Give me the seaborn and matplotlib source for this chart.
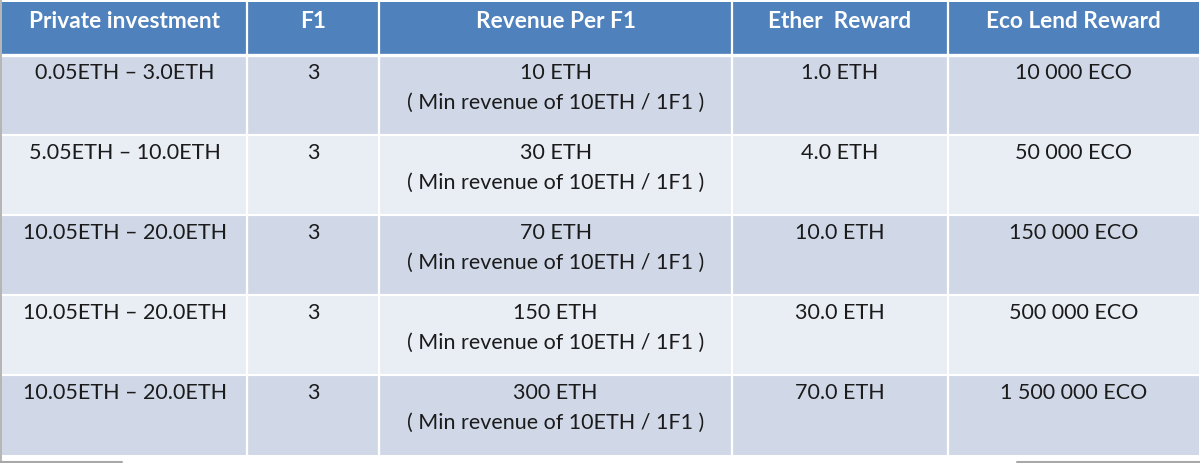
import numpy as np
import seaborn as sns
import matplotlib.pyplot as plt
from matplotlib.colors import ListedColormap
from matplotlib.lines import Line2D

# table content
headers = ["Private investment", "F1", "Revenue Per F1", "Ether  Reward", "Eco Lend Reward"]
investment = ["0.05ETH \u2013 3.0ETH", "5.05ETH \u2013 10.0ETH", "10.05ETH \u2013 20.0ETH",
              "10.05ETH \u2013 20.0ETH", "10.05ETH \u2013 20.0ETH"]
f1 = [3, 3, 3, 3, 3]
revenue_eth = [10, 30, 70, 150, 300]
revenue_note = "( Min revenue of 10ETH / 1F1 )"
ether_reward = [1.0, 4.0, 10.0, 30.0, 70.0]
eco_reward = ["10 000 ECO", "50 000 ECO", "150 000 ECO", "500 000 ECO", "1 500 000 ECO"]

# layout weights (relative cell sizes)
col_weights = [41, 22, 59, 36, 42]
header_h, row_h = 2, 3

header_color = "#4F81BD"
odd_color = "#D0D8E8"
even_color = "#E9EDF4"
text_color = "#1b1b1b"

sns.set_theme(style="white")
plt.rcParams['font.family'] = ['Lato', 'DejaVu Sans']

n_rows = len(investment)
band_codes = [0] + [1 if i % 2 == 0 else 2 for i in range(n_rows)]
band_heights = [header_h] + [row_h] * n_rows
shade = np.repeat(band_codes, band_heights)[:, None] * np.ones((1, sum(col_weights)))

fig = plt.figure(figsize=(12, 4.63), dpi=100)
ax = fig.add_axes([2 / 1200, 8 / 463, 1197 / 1200, 453 / 463])
sns.heatmap(shade, cmap=ListedColormap([header_color, odd_color, even_color]),
            vmin=-0.5, vmax=2.5, cbar=False, xticklabels=False, yticklabels=False, ax=ax)

x_edges = np.concatenate([[0], np.cumsum(col_weights)])
y_edges = np.concatenate([[0], np.cumsum(band_heights)])
x_mid = (x_edges[:-1] + x_edges[1:]) / 2

for x in x_edges[1:-1]:
    ax.axvline(x, color="white", lw=1.6)
for i, y in enumerate(y_edges[1:-1]):
    ax.axhline(y, color="white", lw=2.4 if i == 0 else 1.5)

# header
for xm, h in zip(x_mid, headers):
    ax.text(xm, 0.72, h, ha="center", va="center", color="white",
            fontsize=16.3, fontweight="bold")

# body
fs = 15.5
for r in range(n_rows):
    top = header_h + r * row_h
    y1, y2 = top + 0.68, top + 1.8
    ax.text(x_mid[0], y1, investment[r], ha="center", va="center", color=text_color, fontsize=fs)
    ax.text(x_mid[1], y1, str(f1[r]), ha="center", va="center", color=text_color, fontsize=fs)
    ax.text(x_mid[2], y1, f"{revenue_eth[r]} ETH", ha="center", va="center", color=text_color, fontsize=fs)
    ax.text(x_mid[2], y2, revenue_note, ha="center", va="center", color=text_color, fontsize=fs)
    ax.text(x_mid[3], y1, f"{ether_reward[r]:.1f} ETH", ha="center", va="center", color=text_color, fontsize=fs)
    ax.text(x_mid[4], y1, eco_reward[r], ha="center", va="center", color=text_color, fontsize=fs)

for s in ax.spines.values():
    s.set_visible(False)

# faint frame remnants at the edges of the screenshot
fig.add_artist(Line2D([1 / 1200, 1 / 1200], [0.003, 1.0], color="#a8a8a8", lw=1.2))
fig.add_artist(Line2D([0, 122 / 1200], [1.5 / 463, 1.5 / 463], color="#a8a8a8", lw=1.5))
fig.add_artist(Line2D([1017 / 1200, 1.0], [1.5 / 463, 1.5 / 463], color="#a8a8a8", lw=1.5))

fig.savefig("out.png", dpi=100)
